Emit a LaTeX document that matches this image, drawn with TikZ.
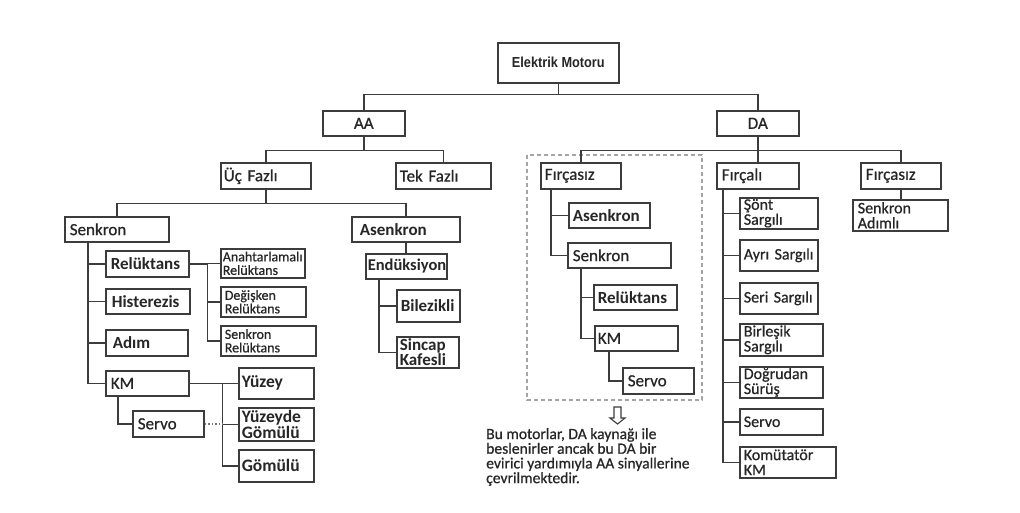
\documentclass[tikz,border=0pt]{standalone}
\usepackage{fontspec}
\setmainfont{Carlito}
\newfontfamily\semif{Carlito}[FakeBold=0.7]
\newfontfamily\arialf{Liberation Sans}
\definecolor{lc}{RGB}{60,60,60}
\definecolor{tc}{RGB}{38,38,38}
\definecolor{dc}{RGB}{165,165,165}
\begin{document}
\begin{tikzpicture}[x=1pt,y=-1pt,
  box/.style={draw=lc, line width=1.6pt, fill=white, inner ysep=0pt, inner xsep=5pt,
    anchor=north west, align=left, text=tc, font=\semif\fontsize{17}{18}\selectfont},
  bb/.style={box, font=\fontsize{17}{18}\selectfont\bfseries},
  sm/.style={box, font=\semif\fontsize{14}{13.5}\selectfont},
  md/.style={box, font=\semif\fontsize{16}{15}\selectfont},
  con/.style={draw=lc, line width=1.5pt},
  dotc/.style={draw=lc!70, line width=1.5pt, dotted}]
\useasboundingbox (0,0) rectangle (1020,513);
\fill[white] (0,0) rectangle (1020,513);

% group frame
\draw[dc, line width=1.3pt, dash pattern=on 4pt off 3pt] (527,155) rectangle (702,400);

% top levels
\node[box, align=center, minimum width=121pt, minimum height=40pt, font=\arialf\fontsize{14.5}{15}\selectfont\bfseries] (em) at (497,42) {\scalebox{0.88}[1]{Elektrik Motoru}};
\node[box, align=center, minimum width=82pt, minimum height=25pt] (aa) at (322,110) {AA};
\node[box, align=center, minimum width=82pt, minimum height=25pt] (da) at (716,110) {DA};

\node[box, inner xsep=3pt, text width=84pt, minimum height=26pt] (ucf) at (220,162) {Üç~Fazlı};
\node[box, inner xsep=4pt, text width=87pt, minimum height=26pt] (tekf) at (395,162) {Tek~Fazlı};
\node[box, inner xsep=4pt, text width=72pt, minimum height=26pt] (firl) at (540,162) {Fırçasız};
\node[box, inner xsep=5pt, text width=72pt, minimum height=26pt] (firc) at (716,162) {Fırçalı};
\node[box, inner xsep=5pt, text width=70pt, minimum height=26pt] (firr) at (860,162) {Fırçasız};

% left subtree
\node[box, inner xsep=5pt, text width=94pt, minimum height=25pt] (sen) at (64,216) {Senkron};
\node[bb, inner xsep=8pt, text width=92pt, minimum height=25pt] (asen) at (351,216) {Asenkron};
\node[bb, inner xsep=5pt, text width=73pt, minimum height=26pt] (rel) at (105,250) {Relüktans};
\node[bb, inner xsep=6pt, text width=72pt, minimum height=25pt] (his) at (105,288) {Histerezis};
\node[bb, inner xsep=7pt, text width=68pt, minimum height=26pt] (adim) at (105,329) {Adım};
\node[sm, inner xsep=2pt, text width=80pt, minimum height=29pt] (anah) at (220,248) {Anahtarlamalı\\Relüktans};
\node[sm, inner xsep=4pt, text width=77pt, minimum height=30pt] (degi) at (220,286) {Değişken\\Relüktans};
\node[sm, inner xsep=4pt, text width=87pt, minimum height=30pt] (senrel) at (220,325) {Senkron\\Relüktans};
\node[box, inner xsep=5pt, text width=73pt, minimum height=25pt] (km) at (105,370) {KM};
\node[box, inner xsep=5pt, text width=61pt, minimum height=26pt] (servo) at (132,410) {Servo};
\node[bb, inner xsep=3pt, text width=69pt, minimum height=31pt, font=\fontsize{17.5}{16.5}\selectfont\bfseries] (yuzey) at (238,367) {Yüzey};
\node[bb, inner xsep=3pt, text width=69pt, minimum height=33pt, font=\fontsize{17.5}{16.5}\selectfont\bfseries] (yg) at (238,407) {Yüzeyde\\Gömülü};
\node[bb, inner xsep=3pt, text width=69pt, minimum height=32pt, font=\fontsize{17.5}{16.5}\selectfont\bfseries] (gom) at (238,449) {Gömülü};
\node[bb, inner xsep=2pt, text width=77pt, minimum height=25pt, font=\fontsize{16.5}{17}\selectfont\bfseries] (endu) at (365,253) {Endüksiyon};
\node[bb, inner xsep=4pt, text width=55pt, minimum height=32pt] (bil) at (396,289) {Bilezikli};
\node[bb, inner xsep=3pt, text width=56pt, minimum height=31pt, font=\fontsize{17}{15.5}\selectfont\bfseries] (sinc) at (396,336) {Sincap\\Kafesli};

% brushless (dashed group)
\node[bb, inner xsep=4pt, text width=73pt, minimum height=25pt] (fasen) at (568,202) {Asenkron};
\node[box, inner xsep=5pt, text width=93pt, minimum height=25pt] (fsen) at (567,242) {Senkron};
\node[bb, inner xsep=4pt, text width=75pt, minimum height=25pt] (frel) at (593,284) {Relüktans};
\node[box, inner xsep=3pt, text width=77pt, minimum height=25pt] (fkm) at (594,325) {KM};
\node[box, inner xsep=5pt, text width=61pt, minimum height=26pt] (fservo) at (622,367) {Servo};

% brushed subtree
\node[md, inner xsep=4pt, text width=70pt, minimum height=31pt] (sont) at (739,197) {Şönt\\Sargılı};
\node[md, inner xsep=4pt, text width=70pt, minimum height=31pt] (ayri) at (739,239) {Ayrı~Sargılı};
\node[md, inner xsep=4pt, text width=70pt, minimum height=31pt] (seri) at (739,282) {Seri~Sargılı};
\node[md, inner xsep=4pt, text width=75pt, minimum height=32pt] (birl) at (739,323) {Birleşik\\Sargılı};
\node[md, inner xsep=4pt, text width=75pt, minimum height=31pt] (dogr) at (739,366) {Doğrudan\\Sürüş};
\node[md, inner xsep=4pt, text width=75pt, minimum height=26pt] (bservo) at (739,408) {Servo};
\node[md, inner xsep=4pt, text width=88pt, minimum height=31pt] (komu) at (739,446) {Komütatör\\KM};
\node[md, inner xsep=5pt, text width=85pt, minimum height=31pt] (senadim) at (852,199) {Senkron\\Adımlı};

% connectors
\draw[con] (em.south) -- ++(0,11) coordinate (emj);
\draw[con] (aa.north) |- (emj) -| (da.north);
\draw[con] (aa.south) -- ++(0,14) coordinate (aaj);
\draw[con] (ucf.north) |- (aaj) -| (tekf.north);
\draw[con] (da.south) -- ++(0,14) coordinate (daj);
\draw[con] (firl.north) |- (daj) -| (firr.north);
\draw[con] (daj) -- (daj |- firc.north);
\draw[con] (ucf.south) -- ++(0,14) coordinate (ucj);
\draw[con] (sen.north) |- (ucj) -| (asen.north);

\coordinate (st) at ([xshift=24pt]sen.south west);
\foreach \c in {rel,his,adim,km} \draw[con] (st) |- (\c.west);
\draw[con] (rel.east) -- ++(18,0) coordinate (rt);
\foreach \c in {anah,degi,senrel} \draw[con] (rt) |- (\c.west);
\draw[con] ([xshift=13pt]km.south west) |- (servo.west);
\draw[con] (km.east) -- (yuzey.west);
\coordinate (kt) at ([xshift=33pt]km.east);
\foreach \c in {yg,gom} \draw[con] (kt) |- (\c.west);
\draw[dotc] (servo.east) -- (servo.east -| kt);

\draw[con] (asen.south) -- (asen.south |- endu.north);
\coordinate (et) at ([xshift=14pt]endu.south west);
\foreach \c in {bil,sinc} \draw[con] (et) |- (\c.west);

\coordinate (ft) at ([xshift=11pt]firl.south west);
\foreach \c in {fasen,fsen} \draw[con] (ft) |- (\c.west);
\coordinate (fst) at ([xshift=14pt]fsen.south west);
\foreach \c in {frel,fkm} \draw[con] (fst) |- (\c.west);
\draw[con] ([xshift=15pt]fkm.south west) |- (fservo.west);

\coordinate (bt) at ([xshift=7pt]firc.south west);
\foreach \c in {sont,ayri,seri,birl,dogr,bservo,komu} \draw[con] (bt) |- (\c.west);
\draw[con] (firr.south) -- (firr.south |- senadim.north);

% hollow arrow and note
\draw[lc, line width=1.1pt, fill=white, line join=miter] (614,407) -- (621,407) -- (621,418) -- (625,418) -- (617.5,424) -- (610,418) -- (614,418) -- cycle;
\node[anchor=north west, align=left, inner sep=0pt, text=tc, font=\semif\fontsize{15.6}{14.7}\selectfont] (note) at (486,428) {Bu motorlar, DA kaynağı ile\\beslenirler ancak bu DA bir\\evirici yardımıyla AA sinyallerine\\çevrilmektedir.};
\end{tikzpicture}
\end{document}
